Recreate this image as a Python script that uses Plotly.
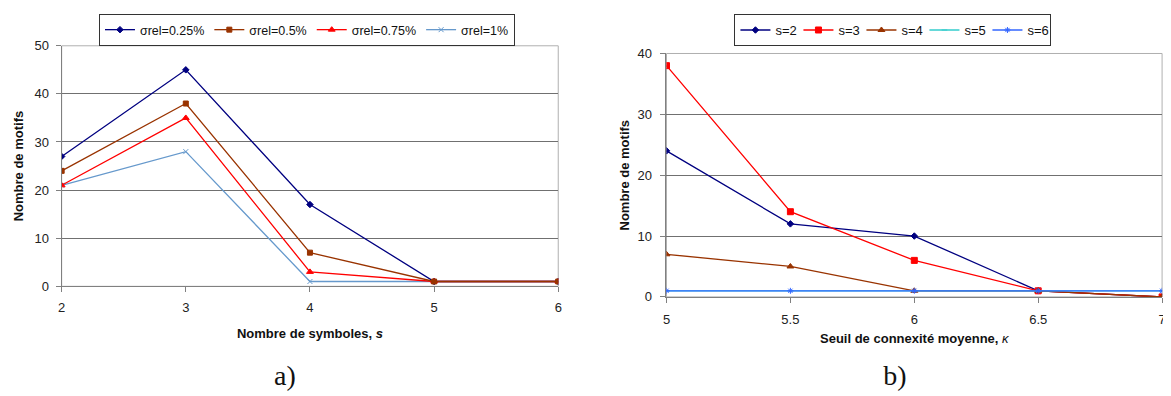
import plotly.graph_objects as go

# ---- data, chart a ----
s_values = [2, 3, 4, 5, 6]
sig025 = [27, 45, 17, 1, 1]
sig05 = [24, 38, 7, 1, 1]
sig075 = [21, 35, 3, 1, 1]
sig1 = [21, 28, 1, 1, 1]
names_a = ["σrel=0.25%", "σrel=0.5%", "σrel=0.75%", "σrel=1%"]

# ---- data, chart b ----
kappa = [5, 5.5, 6, 6.5, 7]
s2 = [24, 12, 10, 1, 0]
s3 = [38, 14, 6, 1, 0]
s4 = [7, 5, 1, 1, 0]
s5 = [1, 1, 1, 1, 1]
s6 = [1, 1, 1, 1, 1]
names_b = ["s=2", "s=3", "s=4", "s=5", "s=6"]

FONT = "Liberation Sans, Arial, sans-serif"
fig = go.Figure()

styles_a = [
    ("#000080", "diamond", 5),
    ("#993300", "square", 5),
    ("#FF0000", "triangle-up", 6),
    ("#6699CC", "x-thin", 5),
]
series_a = list(zip(names_a, [sig025, sig05, sig075, sig1], styles_a))
# drawing order (last on top); legend order kept with legendrank
draw_order_a = [3, 0, 2, 1]
for i in draw_order_a:
    name, ys, (c, sym, sz) = series_a[i]
    fig.add_trace(go.Scatter(
        x=s_values, y=ys, name=name, mode="lines+markers",
        line=dict(color=c, width=1.3),
        marker=dict(color=c, symbol=sym, size=sz, line=dict(color=c, width=1)),
        xaxis="x", yaxis="y", legend="legend", legendrank=100 + i))

styles_b = [
    ("#000080", "diamond", 5),
    ("#FF0000", "square", 6),
    ("#993300", "triangle-up", 6),
    ("#33CCCC", "line-ew", 4),
    ("#3366FF", "asterisk", 5),
]
for name, ys, (c, sym, sz) in zip(names_b, [s2, s3, s4, s5, s6], styles_b):
    fig.add_trace(go.Scatter(
        x=kappa, y=ys, name=name, mode="lines+markers",
        line=dict(color=c, width=1.3),
        marker=dict(color=c, symbol=sym, size=sz, line=dict(color=c, width=1)),
        xaxis="x2", yaxis="y2", legend="legend2"))

W, H = 1171, 396
OFF = 8  # page body margin
def fx(px): return (px - OFF) / W
def fy(py): return 1 - (py - OFF) / H

axis_common = dict(
    showline=True, linecolor="#808080", linewidth=1, mirror=False,
    ticks="outside", ticklen=5, tickcolor="#808080",
    tickfont=dict(family=FONT, size=13, color="#222"),
    zeroline=False,
)

fig.update_layout(
    width=W, height=H,
    margin=dict(l=0, r=0, t=0, b=0),
    paper_bgcolor="white", plot_bgcolor="white",
    font=dict(family=FONT, size=13, color="#111"),
    xaxis=dict(domain=[fx(58), fx(558)], range=[2, 6], tickvals=s_values,
               showgrid=False, anchor="y", ticklabelstandoff=4,
               title=dict(text="<b>Nombre de symboles, <i>s</i></b>",
                          font=dict(family=FONT, size=13), standoff=14),
               **axis_common),
    yaxis=dict(domain=[fy(290), fy(40)], range=[0, 50], dtick=10,
               showgrid=True, gridcolor="#707070", gridwidth=1, anchor="x",
               ticklabelstandoff=4,
               title=dict(text="<b>Nombre de motifs</b>",
                          font=dict(family=FONT, size=13), standoff=8),
               **axis_common),
    xaxis2=dict(domain=[fx(667), fx(1166)], range=[5, 7], tickvals=kappa,
                showgrid=False, anchor="y2", ticklabelstandoff=5,
                title=dict(text="<b>Seuil de connexité moyenne, </b><i>κ</i>",
                           font=dict(family=FONT, size=13), standoff=8),
                **axis_common),
    yaxis2=dict(domain=[fy(301), fy(48)], range=[0, 40], dtick=10,
                showgrid=True, gridcolor="#707070", gridwidth=1, anchor="x2",
                ticklabelstandoff=6,
                title=dict(text="<b>Nombre de motifs</b>",
                           font=dict(family=FONT, size=13), standoff=4),
                **axis_common),
    legend=dict(orientation="h", x=fx(305), xanchor="center", y=fy(7), yanchor="top",
                bordercolor="#333", borderwidth=1, bgcolor="white",
                font=dict(family=FONT, size=12.5), itemwidth=30, traceorder="normal"),
    legend2=dict(orientation="h", x=fx(895), xanchor="center", y=fy(7), yanchor="top",
                 bordercolor="#333", borderwidth=1, bgcolor="white",
                 font=dict(family=FONT, size=13), itemwidth=30,
                 entrywidth=18, entrywidthmode="pixels"),
    showlegend=True,
)

# plot area borders (light gray frame)
for xa, ya in [("x", "y"), ("x2", "y2")]:
    fig.add_shape(type="rect", xref=f"{xa} domain", yref=f"{ya} domain",
                  x0=0, x1=1, y0=0, y1=1, line=dict(color="#B0B0B0", width=1),
                  layer="below")

SERIF = "Liberation Serif, DejaVu Serif, serif"
for lab, px in [("a)", 283), ("b)", 897)]:
    fig.add_annotation(text=lab, x=fx(px), y=fy(382), xref="paper", yref="paper",
                       xanchor="center", yanchor="middle", width=44, height=34,
                       showarrow=False, font=dict(family=SERIF, size=28, color="#111"))

fig.write_html("out.html")
